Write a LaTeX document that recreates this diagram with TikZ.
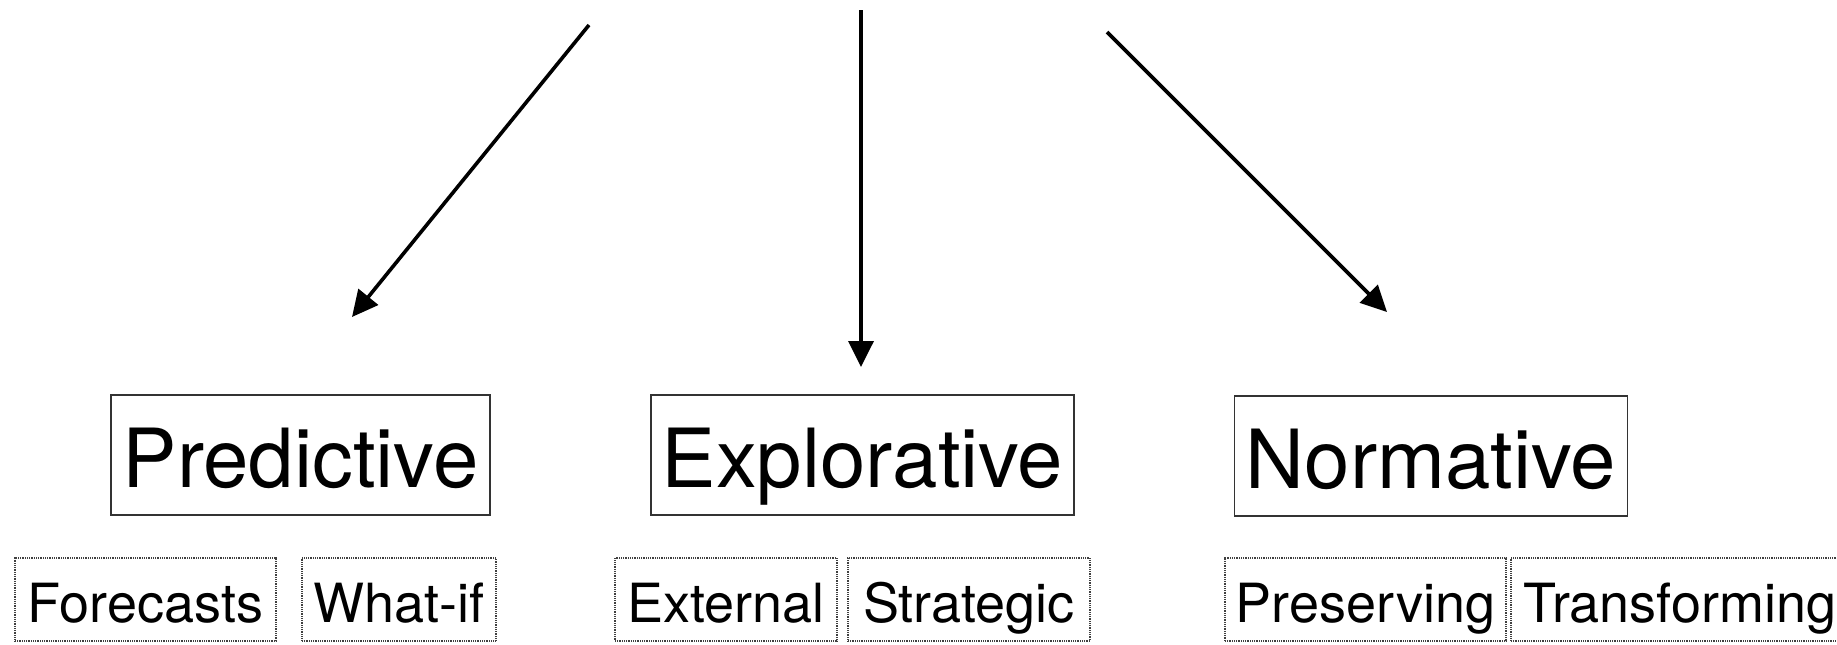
\documentclass[tikz,border=0pt]{standalone}
\usepackage{fontspec}
\setmainfont{TeX Gyre Heros}
\usetikzlibrary{arrows.meta}
\begin{document}
\begin{tikzpicture}[x=0.5pt,y=-0.5pt,
  mainbox/.style={draw=black!80, line width=0.8pt, inner sep=0pt,
    minimum height=60pt, text height=32pt, text depth=0pt,
    font=\fontsize{40.8}{41}\selectfont},
  subbox/.style={draw=black!75, line width=0.6pt, dash pattern=on 0.4pt off 0.5pt,
    inner sep=0pt, minimum height=41.5pt, text height=22.5pt, text depth=0pt,
    font=\fontsize{27}{28}\selectfont},
  arr/.style={line width=1.8pt, -{Triangle[width=12.5pt,length=13pt]}}]
\useasboundingbox (0,0) rectangle (1837,644);
% main boxes
\node[mainbox, minimum width=189.5pt] (pred) at (300.5,455) {Predictive};
\node[mainbox, minimum width=211.5pt] (expl) at (862.5,455) {Explorative};
\node[mainbox, minimum width=196.5pt] (norm) at (1431,456) {Normative};
% sub boxes
\node[subbox, minimum width=130.5pt] (fore) at (145.5,599.5) {Forecasts};
\node[subbox, minimum width=97pt] (whatif) at (399,599.5) {What-if};
\node[subbox, minimum width=111pt] (ext) at (726,599.5) {External};
\node[subbox, minimum width=121pt] (strat) at (969,599.5) {Strategic};
\node[subbox, minimum width=140.5pt] (pres) at (1365.5,599.5) {Preserving};
\node[subbox, minimum width=169pt] (trans) at (1680,599.5) {Transforming};
% arrows
\coordinate (s1) at (589,25);
\coordinate (e1) at (352,317);
\coordinate (s2) at (861,10);
\coordinate (e2) at (861,367);
\coordinate (s3) at (1107,32);
\coordinate (e3) at (1387,312);
\draw[arr] (s1) -- (e1);
\draw[arr] (s2) -- (e2);
\draw[arr] (s3) -- (e3);
\end{tikzpicture}
\end{document}
